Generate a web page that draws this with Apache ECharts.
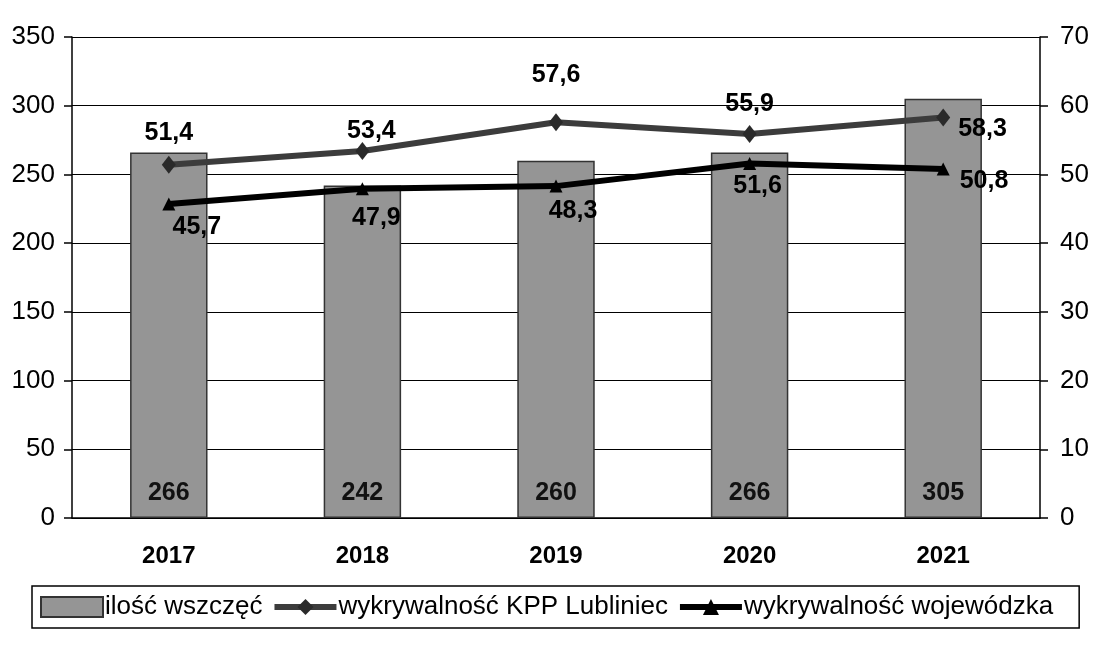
<!DOCTYPE html>
<html>
<head>
<meta charset="utf-8">
<script src="https://cdn.jsdelivr.net/npm/echarts@6/dist/echarts.min.js"></script>
<style>
  html, body { margin: 0; padding: 0; background: #fff; }
  #chart { width: 1096px; height: 653px; }
</style>
</head>
<body>
<div id="chart"></div>
<script>
// dane
const years = ['2017', '2018', '2019', '2020', '2021']
const wszczecia = [266, 242, 260, 266, 305]
const kppLubliniec = [51.4, 53.4, 57.6, 55.9, 58.3]
const wojewodzka = [45.7, 47.9, 48.3, 51.6, 50.8]

const FONT = '"Liberation Sans", Arial, sans-serif'
const comma = v => String(v).replace('.', ',')

// położenie etykiet linii (tylko styl)
const kppLabelPos = [
  { position: 'top', distance: 10 },
  { position: 'top', distance: -2, offset: [9, 0] },
  { position: 'top', distance: 26 },
  { position: 'top', distance: 8 },
  { position: 'right', distance: 8, offset: [0, 12] }
]
const wojLabelPos = [
  { position: 'bottom', distance: 4, offset: [28, 0] },
  { position: 'bottom', distance: 10, offset: [14, 0] },
  { position: 'bottom', distance: 6, offset: [17, 0] },
  { position: 'bottom', distance: 4, offset: [8, 0] },
  { position: 'right', distance: 10, offset: [0, 12] }
]

const chart = echarts.init(document.getElementById('chart'))

const option = {
  animation: false,
  textStyle: { fontFamily: FONT, color: '#000' },
  grid: { left: 72, right: 56, top: 37, bottom: 135 },
  legend: {
    left: 32,
    top: 586,
    padding: [8, 26, 8, 8],
    borderColor: '#000',
    borderWidth: 1.5,
    itemGap: 9,
    itemWidth: 62,
    itemHeight: 20,
    textStyle: { fontSize: 26, color: '#000', fontFamily: FONT, padding: [0, 0, 0, -3] },
    data: [
      { name: 'ilość wszczęć', icon: 'rect' },
      { name: 'wykrywalność KPP Lubliniec', lineStyle: { width: 6 } },
      { name: 'wykrywalność wojewódzka', lineStyle: { width: 6 } }
    ]
  },
  xAxis: {
    type: 'category',
    data: years,
    axisLine: { lineStyle: { color: '#000', width: 1.5 } },
    axisTick: { length: 9, lineStyle: { color: '#000', width: 1.5 } },
    axisLabel: { fontSize: 24, fontWeight: 'bold', color: '#000', margin: 26 }
  },
  yAxis: [
    {
      type: 'value',
      min: 0,
      max: 350,
      interval: 50,
      axisLine: { show: true, lineStyle: { color: '#000', width: 1.5 } },
      axisTick: { show: true, length: 8, lineStyle: { color: '#000', width: 1.5 } },
      axisLabel: { fontSize: 26, color: '#000', margin: 17 },
      splitLine: { lineStyle: { color: '#000', width: 1 } }
    },
    {
      type: 'value',
      min: 0,
      max: 70,
      interval: 10,
      axisLine: { show: true, lineStyle: { color: '#000', width: 1.5 } },
      axisTick: { show: true, length: 8, lineStyle: { color: '#000', width: 1.5 } },
      axisLabel: { fontSize: 26, color: '#000', margin: 20 },
      splitLine: { show: false }
    }
  ],
  series: [
    {
      name: 'ilość wszczęć',
      type: 'bar',
      data: wszczecia,
      barWidth: '40%',
      itemStyle: { color: '#959595', borderColor: '#333', borderWidth: 1.5 },
      label: {
        show: true,
        position: 'insideBottom',
        distance: 12,
        fontSize: 25,
        fontWeight: 'bold',
        color: '#111'
      }
    },
    {
      name: 'wykrywalność KPP Lubliniec',
      type: 'line',
      yAxisIndex: 1,
      data: kppLubliniec.map((v, i) => ({ value: v, label: kppLabelPos[i] })),
      symbol: 'diamond',
      symbolSize: [14, 18],
      lineStyle: { color: '#3c3c3c', width: 6 },
      itemStyle: { color: '#2a2a2a' },
      label: {
        show: true,
        fontSize: 25,
        fontWeight: 'bold',
        color: '#000',
        formatter: p => comma(p.value)
      },
      z: 5
    },
    {
      name: 'wykrywalność wojewódzka',
      type: 'line',
      yAxisIndex: 1,
      data: wojewodzka.map((v, i) => ({ value: v, label: wojLabelPos[i] })),
      symbol: 'triangle',
      symbolSize: 13,
      lineStyle: { color: '#000', width: 6 },
      itemStyle: { color: '#000' },
      label: {
        show: true,
        fontSize: 25,
        fontWeight: 'bold',
        color: '#000',
        formatter: p => comma(p.value)
      },
      z: 6
    }
  ]
}

chart.setOption(option)
</script>
</body>
</html>
